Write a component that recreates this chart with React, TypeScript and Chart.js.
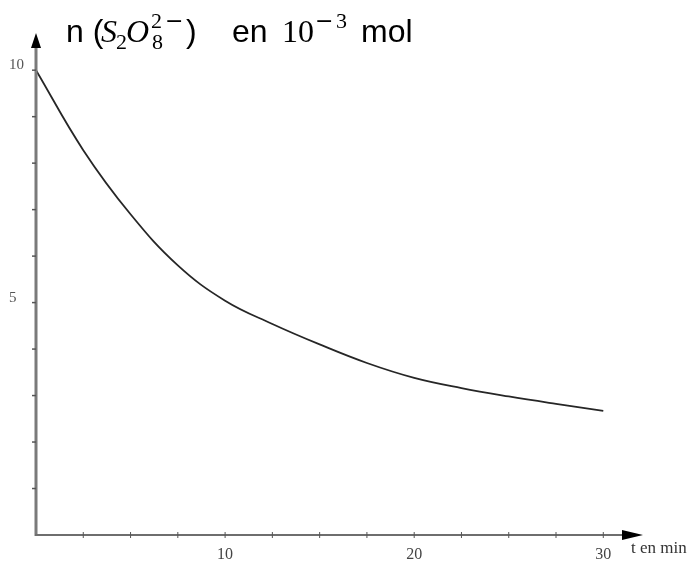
import React, { useEffect, useRef } from 'react';
import { Chart, registerables } from 'chart.js';

Chart.register(...registerables);

// Data
const timeMin = [0, 2.5, 5, 7.5, 10, 12.5, 15, 17.5, 20, 22.5, 25, 27.5, 30];
const nS2O8 = [10, 8.28, 6.9, 5.8, 5.04, 4.54, 4.1, 3.7, 3.38, 3.16, 2.98, 2.82, 2.67];

// Axis ticks
const xTickMarks = [2.5, 5, 7.5, 10, 12.5, 15, 17.5, 20, 22.5, 25, 27.5, 30];
const xTickLabels = [10, 20, 30];
const yTickMarks = [1, 2, 3, 4, 5, 6, 7, 8, 9, 10];
const yTickLabels = [5, 10];

const xAxisName = 't en min';

const axesPlugin = {
  id: 'axesPlugin',
  afterDraw(chart: any) {
    const ctx = chart.ctx;
    const xs = chart.scales.x;
    const ys = chart.scales.y;
    const x0 = xs.getPixelForValue(0);
    const y0 = ys.getPixelForValue(0);
    const xEnd = xs.right;
    const yEnd = ys.top;
    ctx.save();
    // y axis
    ctx.strokeStyle = '#7a7a7a';
    ctx.lineWidth = 3;
    ctx.beginPath();
    ctx.moveTo(x0, y0 + 1);
    ctx.lineTo(x0, yEnd + 12);
    ctx.stroke();
    // x axis
    ctx.strokeStyle = '#6e6e6e';
    ctx.lineWidth = 2;
    ctx.beginPath();
    ctx.moveTo(x0 - 1, y0);
    ctx.lineTo(xEnd - 18, y0);
    ctx.stroke();
    // y ticks
    ctx.strokeStyle = '#555';
    ctx.lineWidth = 1.5;
    yTickMarks.forEach((v) => {
      const py = ys.getPixelForValue(v);
      ctx.beginPath();
      ctx.moveTo(x0 - 4, py);
      ctx.lineTo(x0, py);
      ctx.stroke();
    });
    // x ticks
    ctx.lineWidth = 1;
    xTickMarks.forEach((v) => {
      const px = xs.getPixelForValue(v);
      ctx.beginPath();
      ctx.moveTo(px, y0 - 3);
      ctx.lineTo(px, y0 + 3);
      ctx.stroke();
    });
    // arrows
    ctx.fillStyle = '#000';
    ctx.beginPath();
    ctx.moveTo(x0, yEnd);
    ctx.lineTo(x0 - 5, yEnd + 15);
    ctx.lineTo(x0 + 5, yEnd + 15);
    ctx.closePath();
    ctx.fill();
    ctx.beginPath();
    ctx.moveTo(xEnd, y0);
    ctx.lineTo(xEnd - 21, y0 - 5);
    ctx.lineTo(xEnd - 21, y0 + 5);
    ctx.closePath();
    ctx.fill();
    // x axis name
    ctx.fillStyle = '#333';
    ctx.font = '17px "Liberation Serif"';
    ctx.textBaseline = 'alphabetic';
    ctx.textAlign = 'left';
    ctx.fillText(xAxisName, xEnd - 12, y0 + 18);
    ctx.restore();
  },
};

const titlePlugin = {
  id: 'titlePlugin',
  afterDraw(chart: any) {
    const ctx = chart.ctx;
    ctx.save();
    ctx.fillStyle = '#000';
    ctx.textBaseline = 'alphabetic';
    ctx.textAlign = 'left';
    const sans = '32px "Liberation Sans"';
    const it = 'italic 32px "Liberation Serif"';
    const serif = '32px "Liberation Serif"';
    const small = '22px "Liberation Serif"';
    const minus = '22px "DejaVu Sans"';
    const base = 42;
    const seg = (t: string, f: string, x: number, y: number) => {
      ctx.font = f;
      ctx.fillText(t, x, y);
    };
    seg('n (', sans, 66, base);
    seg('S', it, 101, base);
    seg('2', small, 116, base + 7);
    seg('O', it, 126, base);
    seg('2', small, 151, base - 14);
    seg('\u2212', minus, 165, base - 14);
    seg('8', small, 152, base + 7);
    seg(')', sans, 186, base);
    seg('en', sans, 232, base);
    seg('10', serif, 282, base);
    seg('\u2212', minus, 315, base - 14);
    seg('3', small, 336, base - 14);
    seg('mol', sans, 361, base);
    ctx.restore();
  },
};

export default function App() {
  const ref = useRef<HTMLCanvasElement | null>(null);
  useEffect(() => {
    if (!ref.current) return;
    const chart = new Chart(ref.current, {
      type: 'line',
      data: {
        datasets: [
          {
            data: timeMin.map((t, i) => ({ x: t, y: nS2O8[i] })),
            borderColor: '#262626',
            borderWidth: 1.8,
            pointRadius: 0,
            tension: 0.4,
            fill: false,
          },
        ],
      },
      options: {
        animation: false,
        responsive: false,
        devicePixelRatio: 1,
        layout: { padding: { top: 33, right: 52, left: 9, bottom: 0 } },
        plugins: { legend: { display: false }, tooltip: { enabled: false }, title: { display: false } },
        scales: {
          x: {
            type: 'linear',
            min: 0,
            max: 32.1,
            grid: { display: false },
            border: { display: false },
            afterBuildTicks: (s: any) => {
              s.ticks = xTickLabels.map((v) => ({ value: v }));
            },
            afterFit: (s: any) => {
              s.height = 27;
            },
            ticks: {
              autoSkip: false,
              maxRotation: 0,
              padding: 2,
              color: '#444',
              font: { family: 'Liberation Serif', size: 16 },
              callback: (v: any) => String(v),
            },
          },
          y: {
            type: 'linear',
            min: 0,
            max: 10.8,
            grid: { display: false },
            border: { display: false },
            afterBuildTicks: (s: any) => {
              s.ticks = yTickLabels.map((v) => ({ value: v }));
            },
            afterFit: (s: any) => {
              s.width = 27;
            },
            ticks: {
              crossAlign: 'far',
              labelOffset: -5,
              padding: 0,
              color: '#555',
              font: { family: 'Liberation Serif', size: 15 },
              callback: (v: any) => String(v),
            },
          },
        },
      },
      plugins: [axesPlugin, titlePlugin],
    } as any);
    return () => chart.destroy();
  }, []);
  return (
    <div style={{ position: 'fixed', left: 0, top: 0, width: 695, height: 562, background: '#fff' }}>
      <canvas ref={ref} width={695} height={562} style={{ display: 'block' }} />
    </div>
  );
}
